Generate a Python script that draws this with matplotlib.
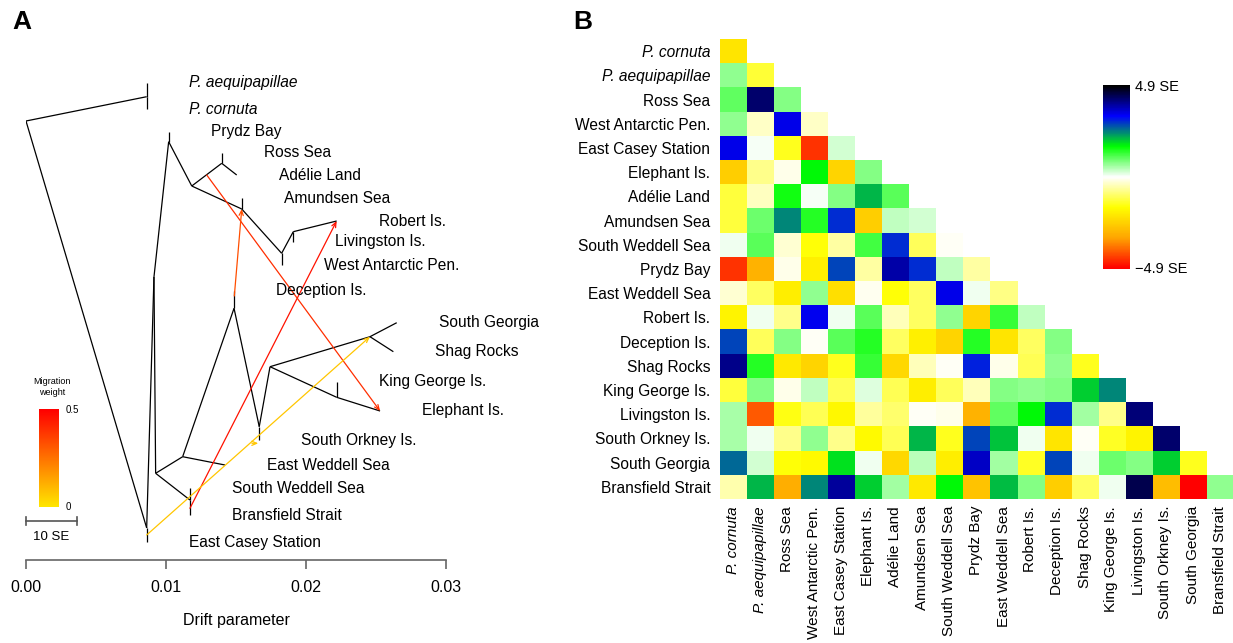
import numpy as np
import matplotlib
matplotlib.use('Agg')
import matplotlib.pyplot as plt
from matplotlib.colors import LinearSegmentedColormap

plt.rcParams['font.family'] = ['Liberation Sans', 'DejaVu Sans']

W, H = 1233, 643

# ---- data: panel B residuals (SE units), lower triangle row by row
pops = ['P. cornuta', 'P. aequipapillae', 'Ross Sea', 'West Antarctic Pen.',
        'East Casey Station', 'Elephant Is.', 'Adélie Land', 'Amundsen Sea',
        'South Weddell Sea', 'Prydz Bay', 'East Weddell Sea', 'Robert Is.',
        'Deception Is.', 'Shag Rocks', 'King George Is.', 'Livingston Is.',
        'South Orkney Is.', 'South Georgia', 'Bransfield Strait']
italic_pops = ['P. cornuta', 'P. aequipapillae']

resid_rows = [
    [-2.1],
    [0.7, -1.3],
    [1.0, 4.2, 0.8],
    [0.7, -0.35, 3.4, -0.35],
    [3.4, 0.05, -1.45, -4.4, 0.3],
    [-2.5, -0.75, -0.15, 1.65, -2.4, 0.8],
    [-1.25, -0.4, 1.5, 0.05, 0.8, 2.1, 1.05],
    [-1.25, 0.95, 2.4, 1.4, 2.95, -2.5, 0.4, 0.3],
    [0.1, 1.05, -0.3, -1.6, -0.6, 1.2, 2.95, -1.05, -0.05],
    [-4.4, -3.0, -0.15, -1.9, 2.8, -0.6, 3.8, 2.95, 0.4, -0.6],
    [-0.3, -1.0, -1.95, 0.7, -2.2, -0.1, -1.6, -1.0, 3.4, 0.1, -0.8],
    [-1.8, 0.1, -0.75, 3.35, 0.1, 1.05, -0.45, -1.0, 0.7, -2.4, 1.3, 0.4],
    [2.8, -1.05, 0.8, -0.05, 1.05, 1.4, -1.0, -1.9, -2.4, 1.4, -2.1, -1.0, 0.8],
    [4.0, 1.4, -2.0, -2.4, -1.45, 1.3, -2.3, -0.45, -0.05, 3.05, -0.15, -1.1, 0.7, -1.45],
    [-1.25, 0.8, -0.15, 0.4, -1.1, 0.2, -1.1, -1.95, -1.05, -0.45, 0.8, 0.7, 0.8, 1.95, 2.4],
    [0.55, -4.0, -1.5, -1.1, -1.75, -0.65, -0.95, -0.05, -0.15, -3.0, 1.0, 1.65, 2.95, 0.6, -0.75, 4.1],
    [0.55, 0.1, -0.75, 0.7, -0.75, -1.7, -1.1, 2.1, -1.45, 2.8, 2.0, 0.1, -2.1, -0.05, -1.4, -1.8, 4.2],
    [2.6, 0.3, -1.6, -1.7, 1.8, 0.1, -2.3, 0.45, -1.95, 3.6, 0.6, -1.4, 2.8, 0.1, 0.95, 0.8, 1.95, -1.45],
    [-0.5, 2.1, -3.1, 2.4, 3.9, 1.95, 0.6, -2.0, 1.65, -2.7, 2.05, 0.8, -2.5, -1.0, 0.1, 4.4, -2.8, -4.9, 0.7],
]
se_max = 4.9

# ---- data: panel A tree, nodes as (drift, height)
nodes = {
    'root': (0.0, 439), 'out': (0.00862, 463.3),
    'P. aequipapillae': (0.00862, 477), 'P. cornuta': (0.00862, 451),
    'M': (0.00862, 32), 'East Casey Station': (0.00862, 18),
    'N': (0.00914, 283), 'E': (0.00926, 86.7),
    'P': (0.01019, 418.3), 'Prydz Bay': (0.01019, 428.3),
    'Q': (0.01184, 374), 'RA': (0.01398, 396.7),
    'Ross Sea': (0.01398, 407.3), 'Adélie Land': (0.01505, 385),
    'R': (0.01541, 351), 'Amundsen Sea': (0.01541, 361.7),
    'S': (0.01826, 306.7), 'West Antarctic Pen.': (0.01826, 295),
    'T': (0.01909, 328.3), 'Livingston Is.': (0.01909, 318.3),
    'Robert Is.': (0.02219, 339),
    'F': (0.01119, 103.3), 'East Weddell Sea': (0.01421, 95),
    'G': (0.01486, 251.7), 'Deception Is.': (0.01486, 269),
    'H': (0.01666, 133.3), 'South Orkney Is.': (0.01666, 120),
    'I': (0.01743, 193.3), 'J': (0.02457, 223.3),
    'South Georgia': (0.02648, 237.3), 'Shag Rocks': (0.02624, 208.3),
    'K': (0.02219, 162.7), 'King George Is.': (0.02219, 178.3),
    'Elephant Is.': (0.02529, 149),
    'L': (0.01171, 60), 'South Weddell Sea': (0.01171, 71.7),
    'Bransfield Strait': (0.01171, 45),
}
edges = [('root', 'out'), ('out', 'P. aequipapillae'), ('out', 'P. cornuta'),
         ('root', 'M'), ('M', 'East Casey Station'), ('M', 'N'), ('N', 'E'),
         ('N', 'P'), ('P', 'Prydz Bay'), ('P', 'Q'), ('Q', 'RA'),
         ('RA', 'Ross Sea'), ('RA', 'Adélie Land'), ('Q', 'R'),
         ('R', 'Amundsen Sea'), ('R', 'S'), ('S', 'West Antarctic Pen.'),
         ('S', 'T'), ('T', 'Livingston Is.'), ('T', 'Robert Is.'),
         ('E', 'F'), ('F', 'East Weddell Sea'), ('F', 'G'),
         ('G', 'Deception Is.'), ('G', 'H'), ('H', 'South Orkney Is.'),
         ('H', 'I'), ('I', 'J'), ('J', 'South Georgia'), ('J', 'Shag Rocks'),
         ('I', 'K'), ('K', 'King George Is.'), ('K', 'Elephant Is.'),
         ('E', 'L'), ('L', 'South Weddell Sea'), ('L', 'Bransfield Strait')]
tips = ['P. aequipapillae', 'P. cornuta', 'Prydz Bay', 'Ross Sea', 'Adélie Land',
        'Amundsen Sea', 'Robert Is.', 'Livingston Is.', 'West Antarctic Pen.',
        'Deception Is.', 'South Georgia', 'Shag Rocks', 'King George Is.',
        'Elephant Is.', 'South Orkney Is.', 'East Weddell Sea', 'South Weddell Sea',
        'Bransfield Strait', 'East Casey Station']

# migration edges: source point, target point, weight
mig_src = [(0.01171, 51.7), (0.01291, 385), (0.01488, 264), (0.00862, 25), (0.01614, 116.7)]
mig_dst = [(0.02219, 339), (0.02529, 149), (0.01541, 351), (0.02457, 223.3), (0.01659, 116.7)]
mig_w = [0.46, 0.40, 0.33, 0.07, 0.07]


def px_axes(fig, x0, y0, x1, y1):
    return fig.add_axes([x0 / W, 1 - y1 / H, (x1 - x0) / W, (y1 - y0) / H])


fig = plt.figure(figsize=(W / 100, H / 100), dpi=100)

# ---------------- panel A
ax = px_axes(fig, 26, 70, 446, 560)
ax.set_xlim(0, 0.03)
ax.set_ylim(0, 490)
for s in ['top', 'right', 'left']:
    ax.spines[s].set_visible(False)
ax.spines['bottom'].set_color('#666666')
ax.spines['bottom'].set_linewidth(1.2)
ax.set_yticks([])
ax.set_xticks([0, 0.01, 0.02, 0.03])
ax.set_xticklabels(['0.00', '0.01', '0.02', '0.03'])
ax.tick_params(axis='x', direction='out', length=6.5, width=1.2, color='#666666',
               labelsize=11.5, pad=8)
ax.set_xlabel('Drift parameter', fontsize=11.5, labelpad=13)

for a, b in edges:
    ax.plot([nodes[a][0], nodes[b][0]], [nodes[a][1], nodes[b][1]],
            color='black', lw=0.9, solid_capstyle='butt')

mig_cmap = LinearSegmentedColormap.from_list('mig', [(1, 0.9, 0), (1, 0, 0)])
for src, dst, w in zip(mig_src, mig_dst, mig_w):
    ax.annotate('', xy=dst, xytext=src,
                arrowprops=dict(arrowstyle='->,head_length=0.35,head_width=0.15',
                                color=mig_cmap(w / 0.5), lw=0.9,
                                shrinkA=0, shrinkB=0))

for t in tips:
    x, y = nodes[t]
    style = 'italic' if t in italic_pops else 'normal'
    ax.text(x + 0.003, y, t, fontsize=11.2, va='center', ha='left',
            style=style, clip_on=False)

# scale bar
ax.plot([0, 0.00362], [39, 39], color='#555555', lw=1.2, clip_on=False)
ax.plot([0, 0], [35, 43], color='#555555', lw=1.2, clip_on=False)
ax.plot([0.00362, 0.00362], [35, 43], color='#555555', lw=1.2, clip_on=False)
ax.text(0.00181, 23, '10 SE', fontsize=9.5, ha='center', va='center')

# migration legend
lax = px_axes(fig, 39, 409, 59, 507)
grad = np.linspace(0, 1, 100).reshape(-1, 1)
lax.imshow(grad, cmap=mig_cmap, origin='lower', aspect='auto')
lax.axis('off')
fig.text(52 / W, 1 - 387 / H, 'Migration\nweight', fontsize=6.5, ha='center',
         va='center', linespacing=1.3)
fig.text(66 / W, 1 - 410 / H, '0.5', fontsize=7, ha='left', va='center')
fig.text(66 / W, 1 - 507 / H, '0', fontsize=7, ha='left', va='center')

# ---------------- panel B
n = len(pops)
mat = np.full((n, n), np.nan)
for i, row in enumerate(resid_rows):
    mat[i, :len(row)] = row

res_cmap = LinearSegmentedColormap.from_list(
    'res', ['red', 'orange', 'yellow', 'white', (0, 1, 0), 'blue', 'black'])

bx = px_axes(fig, 720, 39, 1233, 499)
bx.imshow(np.ma.masked_invalid(mat), cmap=res_cmap, vmin=-se_max, vmax=se_max,
          aspect='auto', interpolation='nearest')
for s in bx.spines.values():
    s.set_visible(False)
bx.set_yticks(range(n))
bx.set_yticklabels(pops, fontsize=11.2)
bx.set_xticks(range(n))
bx.set_xticklabels(pops, fontsize=11, rotation=90)
bx.tick_params(axis='y', length=0, pad=7)
bx.tick_params(axis='x', length=0, pad=5)
for lab in bx.get_yticklabels() + bx.get_xticklabels():
    if lab.get_text() in italic_pops:
        lab.set_style('italic')

cax = px_axes(fig, 1103, 85, 1130, 269)
cax.imshow(np.linspace(-se_max, se_max, 200).reshape(-1, 1), cmap=res_cmap,
           origin='lower', aspect='auto')
cax.axis('off')
fig.text(1135 / W, 1 - 87 / H, '%.1f SE' % se_max, fontsize=10.5, va='center')
fig.text(1135 / W, 1 - 269 / H, '\u2212%.1f SE' % se_max, fontsize=10.5, va='center')

fig.text(12 / W, 1 - 22 / H, 'A', fontsize=19, weight='bold', va='center')
fig.text(573 / W, 1 - 22 / H, 'B', fontsize=19, weight='bold', va='center')

fig.savefig('out.png', dpi=100)
